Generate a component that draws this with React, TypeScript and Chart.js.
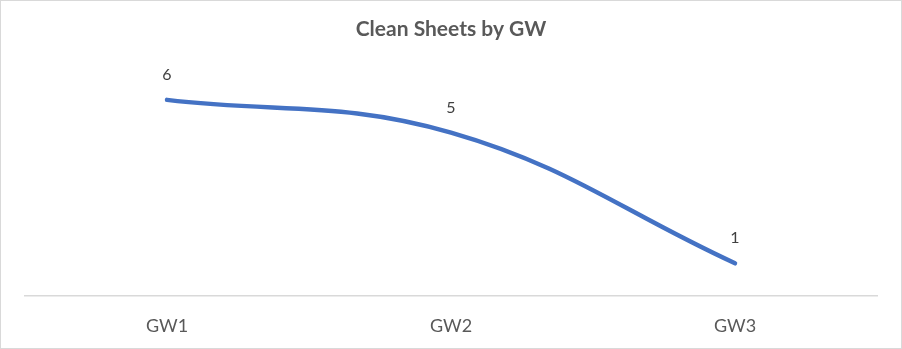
import React, { useEffect, useRef } from "react";
import { Chart, registerables } from "chart.js";

Chart.register(...registerables);

const categories = ["GW1", "GW2", "GW3"];
const cleanSheets = [6, 5, 1];
const chartTitle = "Clean Sheets by GW";

const FONT = "Lato, 'Open Sans', sans-serif";

const labelPlugin = {
  id: "pointLabels",
  afterDatasetsDraw(chart: any) {
    const ctx = chart.ctx;
    const meta = chart.getDatasetMeta(0);
    ctx.save();
    ctx.font = `16px ${FONT}`;
    ctx.fillStyle = "#404040";
    ctx.textAlign = "center";
    ctx.textBaseline = "middle";
    meta.data.forEach((pt: any, i: number) => {
      ctx.fillText(String(cleanSheets[i]), pt.x, pt.y - 25);
    });
    ctx.restore();
  },
};

export default function App() {
  const ref = useRef<HTMLCanvasElement>(null);
  useEffect(() => {
    if (!ref.current) return;
    const chart = new Chart(ref.current, {
      type: "line",
      data: {
        labels: categories,
        datasets: [
          {
            data: cleanSheets,
            borderColor: "#4472C4",
            borderWidth: 4.5,
            pointRadius: 0,
            tension: 0.4,
            borderCapStyle: "round",
            fill: false,
          },
        ],
      },
      options: {
        animation: false,
        responsive: false,
        layout: { padding: { left: 24, right: 24, top: 0, bottom: 0 } },
        plugins: {
          legend: { display: false },
          tooltip: { enabled: false },
          title: {
            display: true,
            text: chartTitle,
            color: "#595959",
            font: { family: FONT, size: 21, weight: "bold" as any },
            padding: { top: 16, bottom: 25 },
          },
        },
        scales: {
          x: {
            offset: true,
            grid: { display: false, drawTicks: false },
            border: { display: true, color: "#d9d9d9", width: 1.5 },
            ticks: {
              color: "#595959",
              font: { family: FONT, size: 18 },
              padding: 19,
              maxRotation: 0,
            },
            afterFit(scale: any) {
              scale.height = 52;
            },
          },
          y: {
            display: false,
            min: 0,
            max: 7,
          },
        },
      },
      plugins: [labelPlugin],
    });
    return () => chart.destroy();
  }, []);
  return (
    <div
      style={{
        position: "fixed",
        left: 0,
        top: 0,
        width: 902,
        height: 349,
        boxSizing: "border-box",
        border: "1px solid #d9d9d9",
        background: "#fff",
      }}
    >
      <canvas ref={ref} width={900} height={347} style={{ display: "block" }} />
    </div>
  );
}
